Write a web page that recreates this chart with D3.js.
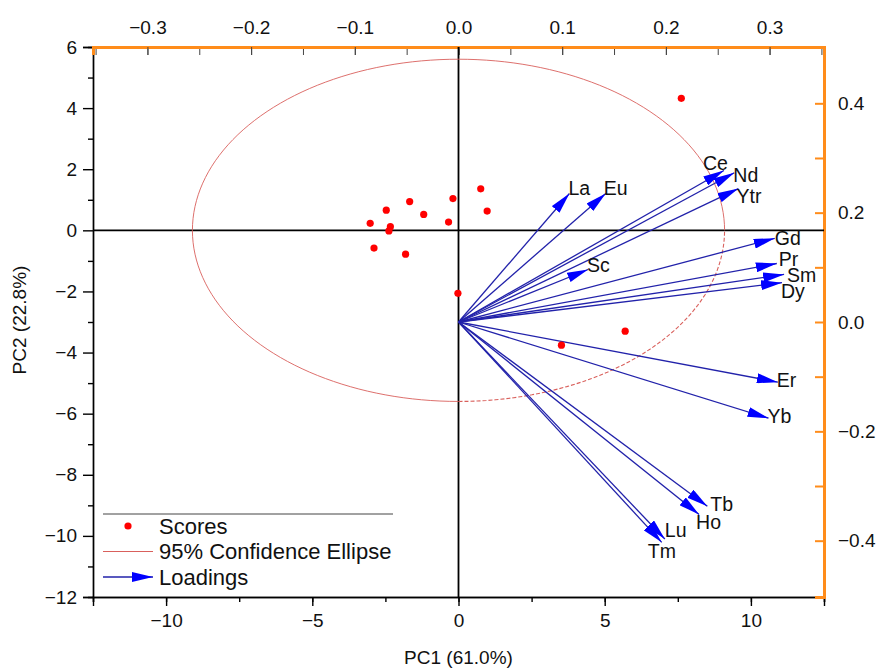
<!DOCTYPE html>
<html>
<head>
<meta charset="utf-8">
<script src="https://cdn.jsdelivr.net/npm/d3@7/dist/d3.min.js"></script>
<style>
  body { margin: 0; background: #fff; }
  svg { font-family: "Liberation Sans", Arial, sans-serif; }
</style>
</head>
<body>
<svg id="chart" width="876" height="669"></svg>
<script>
// scores (PC1, PC2)
const scoreX = [0.76, -0.19, 0.98, -1.67, -2.47, -1.19, -3.02, -2.33, -2.38, -0.34, -2.89, -1.81, -0.02, 7.62, 5.70, 3.52];
const scoreY = [1.36, 1.04, 0.63, 0.94, 0.66, 0.52, 0.23, 0.12, -0.02, 0.27, -0.58, -0.78, -2.06, 4.32, -3.30, -3.76];

// loadings
const elements = ["La", "Eu", "Ce", "Nd", "Ytr", "Gd", "Pr", "Sm", "Dy", "Sc", "Er", "Yb", "Tb", "Ho", "Lu", "Tm"];
const loadX = [0.107, 0.142, 0.256, 0.266, 0.270, 0.305, 0.307, 0.314, 0.312, 0.125, 0.308, 0.299, 0.240, 0.232, 0.199, 0.196];
const loadY = [0.235, 0.235, 0.277, 0.273, 0.244, 0.153, 0.107, 0.087, 0.072, 0.096, -0.110, -0.176, -0.337, -0.352, -0.397, -0.403];
// label offsets from arrow tip [dx, dy]
const labelOff = [[-1, -5], [-2, -5], [-21, -7], [-1, 2], [-2, 8], [0, 0], [2, -4], [3, 1], [-1, 9], [-1, -4], [-1, -2], [-1, -2], [3, -2], [-3, 8], [0, -9], [-14, 9]];

const bottomTicks = [-10, -5, 0, 5, 10];
const leftTicks = [6, 4, 2, 0, -2, -4, -6, -8, -10, -12];
const topTicks = [-0.3, -0.2, -0.1, 0.0, 0.1, 0.2, 0.3];
const rightTicks = [0.4, 0.2, 0.0, -0.2, -0.4];

const ellipseR = [9.1, 5.6];

const svg = d3.select("#chart");
const pLeft = 93, pRight = 824, pTop = 47, pBottom = 597;
const orange = "#ff8c1a";
const tickFont = "19px";

const x = d3.scaleLinear().domain([-12.5, 12.5]).range([pLeft, pRight]);
const y = d3.scaleLinear().domain([-12, 6]).range([pBottom, pTop]);
const x2 = d3.scaleLinear().domain([-0.3525, 0.3525]).range([pLeft, pRight]);
const y2 = d3.scaleLinear().domain([-0.503, 0.503]).range([pBottom, pTop]);

function fmt(v) { return v < 0 ? "\u2212" + Math.abs(v) : String(v); }
function fmt1(v) { return v < 0 ? "\u2212" + Math.abs(v).toFixed(1) : v.toFixed(1); }

// bottom axis
const gx = svg.append("g").attr("transform", `translate(0,${pBottom})`);
gx.append("g").call(d3.axisBottom(x).tickValues(d3.range(-12.5, 12.6, 2.5)).tickSize(5).tickFormat(""));
gx.append("g").call(d3.axisBottom(x).tickValues(bottomTicks).tickSize(9).tickFormat(fmt));
gx.selectAll("text").style("font-size", tickFont).attr("y", 17).attr("dy", "0.71em").attr("fill", "#111");
gx.selectAll("path,line").attr("stroke", "#000").attr("stroke-width", 1.4);

// left axis
const gy = svg.append("g").attr("transform", `translate(${pLeft},0)`);
gy.append("g").call(d3.axisLeft(y).tickValues(d3.range(-11, 6, 2)).tickSize(5).tickFormat(""));
gy.append("g").call(d3.axisLeft(y).tickValues(leftTicks).tickSize(10).tickFormat(fmt));
gy.selectAll("text").style("font-size", tickFont).attr("x", -16).attr("fill", "#111");
gy.selectAll("path,line").attr("stroke", "#000").attr("stroke-width", 1.4);

// top axis (loadings)
const gt = svg.append("g").attr("transform", `translate(0,${pTop})`);
gt.append("g").call(d3.axisTop(x2).tickValues(d3.range(-0.35, 0.36, 0.05)).tickSize(-8).tickFormat(""));
gt.append("g").call(d3.axisTop(x2).tickValues(topTicks).tickSize(-8).tickFormat(fmt1));
gt.selectAll("text").style("font-size", tickFont).attr("y", -13).attr("fill", "#111");
gt.selectAll("line").attr("stroke", "#444").attr("stroke-width", 1);
gt.selectAll("path").attr("stroke", orange).attr("stroke-width", 3);

// right axis (loadings)
const gr = svg.append("g").attr("transform", `translate(${pRight},0)`);
gr.append("g").call(d3.axisRight(y2).tickValues([0.3, 0.1, -0.1, -0.3]).tickSize(-9).tickFormat(""));
gr.append("g").call(d3.axisRight(y2).tickValues(rightTicks).tickSize(-9).tickFormat(fmt1));
gr.selectAll("text").style("font-size", tickFont).attr("x", 14).attr("fill", "#111");
gr.selectAll("line").attr("stroke", orange).attr("stroke-width", 2);
gr.selectAll("path").attr("stroke", orange).attr("stroke-width", 3);

// zero lines
svg.append("line").attr("x1", x(0)).attr("x2", x(0)).attr("y1", pTop).attr("y2", pBottom)
    .attr("stroke", "#000").attr("stroke-width", 1.8);
svg.append("line").attr("x1", pLeft).attr("x2", pRight).attr("y1", y(0)).attr("y2", y(0))
    .attr("stroke", "#000").attr("stroke-width", 1.8);

// confidence ellipse
const ellColor = "#d9605c";
const solidPts = d3.range(0, 271, 2).map(a => [ellipseR[0] * Math.cos(a * Math.PI / 180), ellipseR[1] * Math.sin(a * Math.PI / 180)]);
const dashPts = d3.range(270, 361, 2).map(a => [ellipseR[0] * Math.cos(a * Math.PI / 180), ellipseR[1] * Math.sin(a * Math.PI / 180)]);
const ell = d3.line().x(d => x(d[0])).y(d => y(d[1]));
svg.append("path").attr("d", ell(solidPts)).attr("fill", "none").attr("stroke", ellColor).attr("stroke-width", 0.9);
svg.append("path").attr("d", ell(dashPts)).attr("fill", "none").attr("stroke", ellColor).attr("stroke-width", 1.1)
    .attr("stroke-dasharray", "4,2");

// arrowhead
svg.append("defs").append("marker")
    .attr("id", "head")
    .attr("viewBox", "0 0 21 10")
    .attr("refX", 21).attr("refY", 5)
    .attr("markerWidth", 21).attr("markerHeight", 10)
    .attr("markerUnits", "userSpaceOnUse")
    .attr("orient", "auto")
    .append("path").attr("d", "M0,0 L21,5 L0,10 Z").attr("fill", "#0000ff");

// loadings
const ox = x2(0), oy = y2(0);
elements.forEach((name, i) => {
    svg.append("line")
        .attr("x1", ox).attr("y1", oy)
        .attr("x2", x2(loadX[i])).attr("y2", y2(loadY[i]))
        .attr("stroke", "#2222aa").attr("stroke-width", 1.3)
        .attr("marker-end", "url(#head)");
});
elements.forEach((name, i) => {
    svg.append("text")
        .attr("x", x2(loadX[i]) + labelOff[i][0])
        .attr("y", y2(loadY[i]) + labelOff[i][1])
        .attr("dy", "0.35em")
        .style("font-size", "19.5px")
        .attr("fill", "#111")
        .text(name);
});

// scores
svg.selectAll("circle.score")
    .data(scoreX)
    .enter()
    .append("circle")
    .attr("class", "score")
    .attr("cx", d => x(d))
    .attr("cy", (d, i) => y(scoreY[i]))
    .attr("r", 3.6)
    .attr("fill", "#ff0000");

// legend
const lg = svg.append("g");
lg.append("line").attr("x1", 103).attr("x2", 393).attr("y1", 514).attr("y2", 514).attr("stroke", "#444").attr("stroke-width", 1);
lg.append("circle").attr("cx", 128).attr("cy", 526).attr("r", 3.6).attr("fill", "#ff0000");
lg.append("line").attr("x1", 103).attr("x2", 153).attr("y1", 551.5).attr("y2", 551.5).attr("stroke", ellColor).attr("stroke-width", 1);
lg.append("line").attr("x1", 103).attr("x2", 153).attr("y1", 577).attr("y2", 577).attr("stroke", "#2222aa").attr("stroke-width", 1.3)
    .attr("marker-end", "url(#head)");
const legendText = ["Scores", "95% Confidence Ellipse", "Loadings"];
legendText.forEach((t, i) => {
    lg.append("text").attr("x", 159).attr("y", 526 + i * 25.5).attr("dy", "0.35em")
        .style("font-size", "22px").attr("fill", "#111").text(t);
});

// axis titles
svg.append("text").attr("x", x(0)).attr("y", 657).attr("dy", "0.35em").attr("text-anchor", "middle")
    .style("font-size", "19px").attr("fill", "#111").text("PC1 (61.0%)");
svg.append("text").attr("transform", `translate(19,320) rotate(-90)`)
    .attr("dy", "0.35em").attr("text-anchor", "middle")
    .style("font-size", "19px").attr("fill", "#111").text("PC2 (22.8%)");
</script>
</body>
</html>
